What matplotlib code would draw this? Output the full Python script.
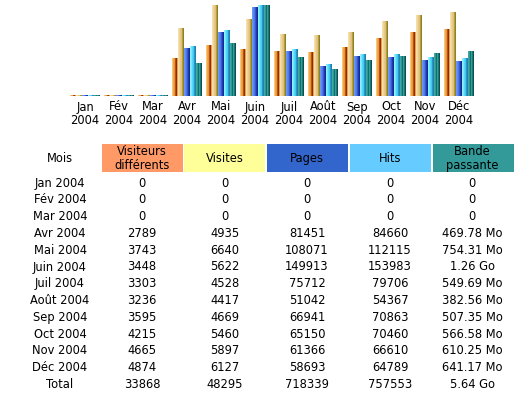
import matplotlib
matplotlib.use("Agg")
import matplotlib.pyplot as plt
import numpy as np
from matplotlib.patches import Rectangle

months = ["Jan", "Fév", "Mar", "Avr", "Mai", "Juin", "Juil", "Août", "Sep", "Oct", "Nov", "Déc"]
year = "2004"
visitors = [0, 0, 0, 2789, 3743, 3448, 3303, 3236, 3595, 4215, 4665, 4874]
visits = [0, 0, 0, 4935, 6640, 5622, 4528, 4417, 4669, 5460, 5897, 6127]
pages = [0, 0, 0, 81451, 108071, 149913, 75712, 51042, 66941, 65150, 61366, 58693]
hits = [0, 0, 0, 84660, 112115, 153983, 79706, 54367, 70863, 70460, 66610, 64789]
bandwidth_mo = [0, 0, 0, 469.78, 754.31, 1290.24, 549.69, 382.56, 507.35, 566.58, 610.25, 641.17]
bandwidth_txt = ["0", "0", "0", "469.78 Mo", "754.31 Mo", "1.26 Go", "549.69 Mo", "382.56 Mo",
                 "507.35 Mo", "566.58 Mo", "610.25 Mo", "641.17 Mo"]
totals = ["33868", "48295", "718339", "757553", "5.64 Go"]
headers = ["Visiteurs\ndifférents", "Visites", "Pages", "Hits", "Bande\npassante"]

W, H = 531, 398
fig = plt.figure(figsize=(W / 100, H / 100), dpi=100)
fig.patch.set_facecolor("white")
FS = 8.3

def fx(px):
    return px / W

def fy(py):
    return 1 - py / H

# ---------- bar chart ----------
ax = fig.add_axes([fx(68), fy(96), fx(476) - fx(68), (96 - 5) / H])
ax.axis("off")

n = len(months)
x = np.arange(n)
bw = 6 / 34
gradients = [
    ["#F8C878", "#F0A848", "#E89838", "#B85018", "#8C2C08", "#E8A040"],  # visitors
    ["#F4E0A8", "#F0D498", "#E8C888", "#E0C080", "#B0A040", "#908020"],  # visits
    ["#6C98F8", "#5888F0", "#4C78E8", "#3858D0", "#2038B0", "#182890"],  # pages
    ["#90F0FF", "#70E8FF", "#50D8F8", "#48C8F0", "#2898C8", "#2080B0"],  # hits
    ["#40A8A0", "#309890", "#107070", "#30A098", "#1C7878", "#0C5050"],  # bandwidth
]
maxv = max(visits)
maxh = max(hits)
maxb = max(bandwidth_mo)
series = [
    [v / maxv for v in visitors],
    [v / maxv for v in visits],
    [v / maxh for v in pages],
    [v / maxh for v in hits],
    [v / maxb for v in bandwidth_mo],
]
minh = 1.2 / 91
for si, (vals, grad) in enumerate(zip(series, gradients)):
    cols = np.array([matplotlib.colors.to_rgb(c) for c in grad])[None, :, :]
    for i in range(n):
        h = max(vals[i], minh)
        left = x[i] + (si - 2.5) * bw
        rect = Rectangle((left, 0), bw, h, facecolor="none", edgecolor="none")
        ax.add_patch(rect)
        im = ax.imshow(cols, extent=(left, left + bw, 0, h), aspect="auto",
                       interpolation="nearest", zorder=2)
        im.set_clip_path(rect)
ax.set_xlim(-0.5, 11.5)
ax.set_ylim(0, 1)

for i, m in enumerate(months):
    cx = fx(85 + 34 * i)
    fig.text(cx, fy(107), m, ha="center", va="center", fontsize=FS)
    fig.text(cx, fy(120), year, ha="center", va="center", fontsize=FS)

# ---------- table ----------
col_x = [60, 142, 225, 307, 390, 472]
hdr_colors = ["#FF9966", "#FFFF99", "#3366CC", "#66CCFF", "#339999"]
cell_l = [102, 184, 267, 350, 433]
cell_w = 81
top, bot = 144, 172
for j in range(5):
    fig.add_artist(Rectangle((fx(cell_l[j]), fy(bot)), fx(cell_w), (bot - top) / H,
                             transform=fig.transFigure, facecolor=hdr_colors[j],
                             edgecolor="none"))
    fig.text(fx(col_x[j + 1]), fy((top + bot) / 2), headers[j], ha="center", va="center",
             fontsize=FS, linespacing=1.1)
fig.text(fx(col_x[0]), fy((top + bot) / 2), "Mois", ha="center", va="center", fontsize=FS)

row0 = 183
dy = 16.8
for i in range(n):
    yy = fy(row0 + dy * i)
    row = [f"{months[i]} {year}", str(visitors[i]), str(visits[i]), str(pages[i]),
           str(hits[i]), bandwidth_txt[i]]
    for j, t in enumerate(row):
        fig.text(fx(col_x[j]), yy, t, ha="center", va="center", fontsize=FS)
yy = fy(row0 + dy * n)
for j, t in enumerate(["Total"] + totals):
    fig.text(fx(col_x[j]), yy, t, ha="center", va="center", fontsize=FS)

fig.savefig("out.png", dpi=100, facecolor="white")
